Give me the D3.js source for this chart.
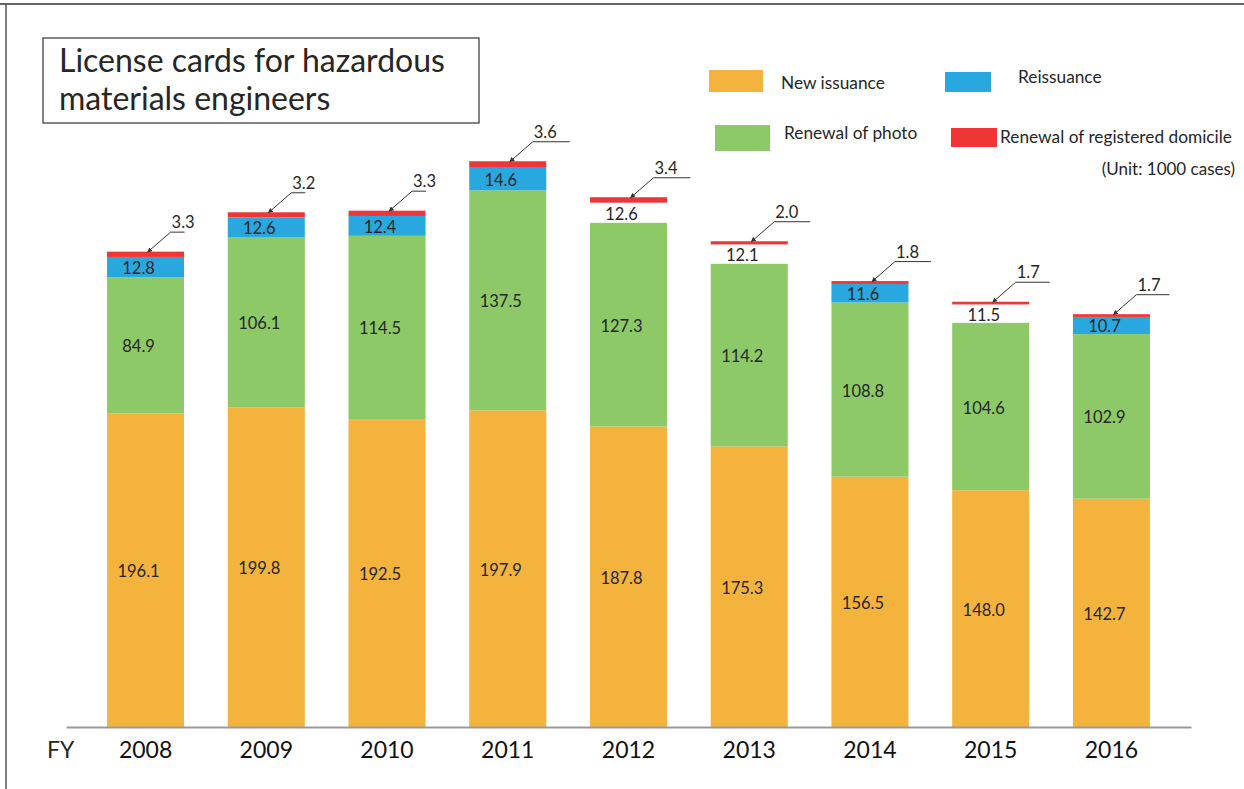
<!DOCTYPE html>
<html>
<head>
<meta charset="utf-8">
<script src="https://cdn.jsdelivr.net/npm/d3@7"></script>
<style>
  html, body { margin: 0; padding: 0; background: #fff; }
  svg { display: block; font-family: Lato, "Open Sans", sans-serif; }
</style>
</head>
<body>
<svg id="chart" width="1244" height="789"></svg>
<script>
const years = ["2008", "2009", "2010", "2011", "2012", "2013", "2014", "2015", "2016"];
const newIssuance = [196.1, 199.8, 192.5, 197.9, 187.8, 175.3, 156.5, 148.0, 142.7];
const renewalPhoto = [84.9, 106.1, 114.5, 137.5, 127.3, 114.2, 108.8, 104.6, 102.9];
const reissuance = [12.8, 12.6, 12.4, 14.6, 12.6, 12.1, 11.6, 11.5, 10.7];
const renewalDomicile = [3.3, 3.2, 3.3, 3.6, 3.4, 2.0, 1.8, 1.7, 1.7];
// whether the reissuance segment is filled in the original picture
const reissuanceFilled = [true, true, true, true, false, false, true, false, true];
const seriesNames = ["New issuance", "Reissuance", "Renewal of photo", "Renewal of registered domicile"];
const titleLines = ["License cards for hazardous", "materials engineers"];
const unitNote = "(Unit: 1000 cases)";

const colors = {
  orange: "#F4B33D",
  blue: "#29A8DF",
  green: "#8DC967",
  red: "#EE3636",
  text: "#262626"
};
// horizontal leader lengths for the domicile callouts (style)
const leaderLen = [14, 14, 14, 37, 37, 36, 36, 34, 33];

const svg = d3.select("#chart");

// frame
svg.append("line").attr("x1", 0).attr("x2", 1244).attr("y1", 4).attr("y2", 4)
  .attr("stroke", "#333").attr("stroke-width", 1.5);
svg.append("line").attr("x1", 6).attr("x2", 6).attr("y1", 4).attr("y2", 789)
  .attr("stroke", "#555").attr("stroke-width", 1.5);

// scales
const x = d3.scaleBand().domain(years).range([66, 1191]).paddingInner(0.362).paddingOuter(0.34);
const y = d3.scaleLinear().domain([0, 400]).range([727, 87]);

const keys = ["newIssuance", "renewalPhoto", "reissuance", "renewalDomicile"];
const table = years.map((yr, i) => ({
  year: yr,
  newIssuance: newIssuance[i],
  renewalPhoto: renewalPhoto[i],
  reissuance: reissuance[i],
  renewalDomicile: renewalDomicile[i],
  filled: reissuanceFilled[i]
}));
const stack = d3.stack().keys(keys)(table);
const fillOf = { newIssuance: colors.orange, renewalPhoto: colors.green, reissuance: colors.blue, renewalDomicile: colors.red };

const g = svg.append("g");
stack.forEach(layer => {
  g.selectAll(null).data(layer).enter().append("rect")
    .attr("x", d => x(d.data.year))
    .attr("width", x.bandwidth())
    .attr("y", d => y(d[1]))
    .attr("height", d => y(d[0]) - y(d[1]))
    .attr("fill", d => (layer.key === "reissuance" && !d.data.filled) ? "none" : fillOf[layer.key]);
});

// segment labels
stack.filter(l => l.key !== "renewalDomicile").forEach(layer => {
  g.selectAll(null).data(layer).enter().append("text")
    .attr("x", d => x(d.data.year) + x.bandwidth() / 2 - 7)
    .attr("y", d => (y(d[0]) + y(d[1])) / 2 + 1)
    .attr("text-anchor", "middle")
    .attr("dominant-baseline", "central")
    .attr("font-size", 16.5)
    .attr("fill", colors.text)
    .text(d => d.data[layer.key].toFixed(1));
});

// arrow marker
svg.append("defs").append("marker")
  .attr("id", "arr").attr("viewBox", "0 0 10 10").attr("refX", 9).attr("refY", 5)
  .attr("markerWidth", 5).attr("markerHeight", 5).attr("orient", "auto")
  .append("path").attr("d", "M0,0 L10,5 L0,10 z").attr("fill", "#333");

// domicile callouts
const dom = stack.find(l => l.key === "renewalDomicile");
dom.forEach((d, i) => {
  const tx = x(d.data.year) + x.bandwidth() / 2 + 2;
  const ty = y(d[1]) + 0.5;
  const ex = tx + 23, ey = ty - 20;
  g.append("path")
    .attr("d", `M${ex + leaderLen[i]},${ey} L${ex},${ey} L${tx},${ty}`)
    .attr("fill", "none").attr("stroke", "#333").attr("stroke-width", 1)
    .attr("marker-end", "url(#arr)");
  g.append("text")
    .attr("x", ex + 1).attr("y", ey - 4)
    .attr("font-size", 16.5).attr("fill", colors.text)
    .text(d.data.renewalDomicile.toFixed(1));
});

// x axis
const axis = svg.append("g").attr("transform", "translate(0,727)")
  .call(d3.axisBottom(x).tickSize(0).tickPadding(15));
axis.select(".domain").attr("stroke", "#999").attr("stroke-width", 2);
axis.selectAll("text").attr("font-size", 23).attr("fill", "#111").attr("font-family", "Lato, sans-serif");
svg.append("text").attr("x", 47).attr("y", 758).attr("font-size", 23).attr("fill", colors.text).text("FY");

// title box
svg.append("rect").attr("x", 43).attr("y", 38).attr("width", 436).attr("height", 85)
  .attr("fill", "#fff").attr("stroke", "#333").attr("stroke-width", 1.2);
svg.append("text").attr("x", 60).attr("font-size", 32).attr("fill", colors.text)
  .selectAll("tspan").data(titleLines).enter().append("tspan")
  .attr("x", 59).attr("y", (d, i) => 72 + i * 38).text(d => d);

// legend
const legend = [
  { name: seriesNames[0], color: colors.orange, sx: 709, sy: 70, sw: 54, sh: 22, tx: 781, ty: 89 },
  { name: seriesNames[1], color: colors.blue, sx: 945, sy: 72, sw: 46, sh: 20, tx: 1018, ty: 83 },
  { name: seriesNames[2], color: colors.green, sx: 715, sy: 125, sw: 55, sh: 26, tx: 784, ty: 139 },
  { name: seriesNames[3], color: colors.red, sx: 951, sy: 128, sw: 46, sh: 19, tx: 1000, ty: 143 }
];
const lg = svg.append("g");
legend.forEach(l => {
  lg.append("rect").attr("x", l.sx).attr("y", l.sy).attr("width", l.sw).attr("height", l.sh).attr("fill", l.color);
  lg.append("text").attr("x", l.tx).attr("y", l.ty).attr("font-size", 17.3).attr("fill", colors.text).text(l.name);
});
svg.append("text").attr("x", 1235).attr("y", 175).attr("text-anchor", "end")
  .attr("font-size", 17).attr("fill", colors.text).text(unitNote);
</script>
</body>
</html>
